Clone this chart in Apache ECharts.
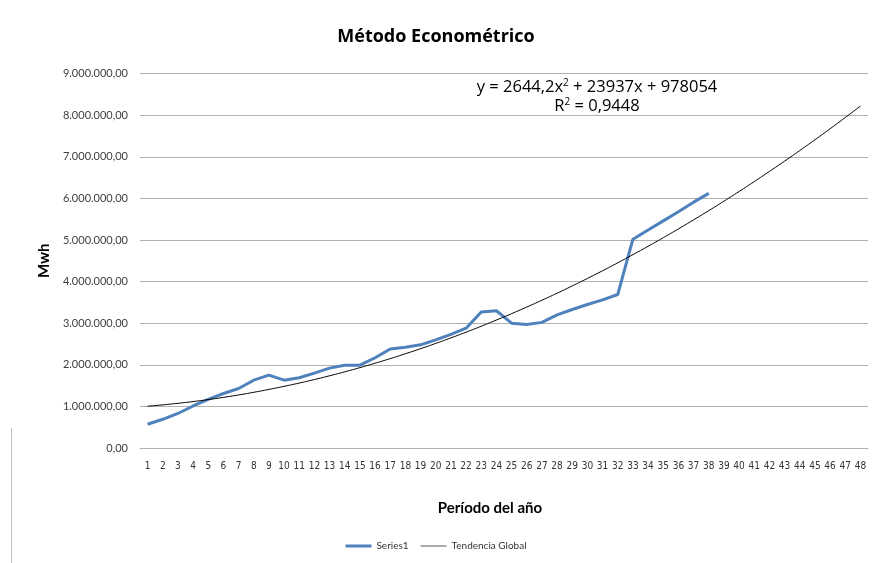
<!DOCTYPE html>
<html>
<head>
<meta charset="utf-8">
<title>Método Econométrico</title>
<script src="https://cdn.jsdelivr.net/npm/echarts@6/dist/echarts.min.js"></script>
<style>
    html, body { margin: 0; padding: 0; background: #fff; }
    #plot { width: 872px; height: 563px; }
</style>
</head>
<body>
<div id="plot"></div>
<script>
// periodos 1..48
const periodos = [];
for (let i = 1; i <= 48; i++) periodos.push(String(i));

// consumo en Mwh (38 periodos)
const series1 = [
    570000, 690000, 830000, 1010000, 1170000, 1310000, 1430000, 1630000, 1750000, 1630000,
    1690000, 1800000, 1920000, 1990000, 1990000, 2170000, 2380000, 2420000, 2480000, 2600000,
    2730000, 2880000, 3270000, 3300000, 3000000, 2970000, 3020000, 3200000, 3330000, 3450000,
    3560000, 3690000, 5020000, 5240000, 5460000, 5680000, 5910000, 6120000
];

// linea de tendencia (polinomica)
const tendencia = [
    1005000, 1037000, 1074000, 1116000, 1164000, 1217000, 1275000, 1339000, 1408000, 1482000,
    1561000, 1646000, 1736000, 1831000, 1932000, 2038000, 2149000, 2266000, 2387000, 2514000,
    2647000, 2784000, 2927000, 3076000, 3229000, 3388000, 3552000, 3721000, 3896000, 4076000,
    4261000, 4452000, 4648000, 4849000, 5055000, 5267000, 5484000, 5706000, 5933000, 6166000,
    6404000, 6648000, 6896000, 7150000, 7410000, 7674000, 7944000, 8219000
];

const ecuacion = ['y = 2644,2x{sup|2} + 23937x + 978054', 'R{sup|2} = 0,9448'];

const fuente = 'Lato, "Liberation Sans", sans-serif';
const fuenteTitulo = '"Open Sans", Lato, sans-serif';

function fmtNum(v) {
    // 9000000 -> 9.000.000,00
    let s = Math.round(v).toString().replace(/\B(?=(\d{3})+(?!\d))/g, '.');
    return s + ',00';
}

function textoEcuacion(txt, y) {
    return {
        type: 'text',
        x: 597,
        y: y,
        style: {
            text: txt,
            fill: '#000',
            font: '16.5px ' + fuenteTitulo,
            align: 'center',
            verticalAlign: 'middle',
            rich: {
                sup: { fontSize: 10, fontFamily: fuenteTitulo, verticalAlign: 'top', padding: [0, 0, 8, 0], fill: '#000' }
            }
        }
    };
}

let chart = echarts.init(document.getElementById('plot'));
let option = {
    backgroundColor: '#fff',
    animation: false,
    textStyle: { fontFamily: fuente },
    title: {
        text: 'Método Econométrico',
        left: 'center',
        top: 23,
        textStyle: { fontSize: 18, fontWeight: 'bold', color: '#000', fontFamily: fuenteTitulo }
    },
    legend: {
        bottom: 7,
        left: 'center',
        itemWidth: 26,
        itemHeight: 3,
        itemGap: 12,
        textStyle: { fontSize: 10, color: '#333', fontFamily: fuente },
        data: [
            { name: 'Series1', icon: 'rect', itemStyle: { color: '#4f81bd' } },
            { name: 'Tendencia Global', icon: 'path://M0,0H26V1H0Z', itemStyle: { color: '#555' } }
        ]
    },
    grid: { left: 140, right: 4, top: 73.6, bottom: 115 },
    xAxis: {
        type: 'category',
        data: periodos,
        boundaryGap: true,
        name: 'Período del año',
        nameLocation: 'middle',
        nameGap: 53,
        nameTextStyle: {
            fontSize: 15, fontWeight: 'bold', color: '#000', fontFamily: fuente,
            padding: [0, 28, 0, 0]
        },
        axisLine: { lineStyle: { color: '#b0b0b0' } },
        axisTick: { show: false },
        axisLabel: {
            interval: 0, margin: 13, fontSize: 10, color: '#333',
            fontFamily: '"Liberation Sans Narrow", "DejaVu Sans Condensed", sans-serif'
        }
    },
    yAxis: {
        type: 'value',
        min: 0,
        max: 9000000,
        interval: 1000000,
        name: 'Mwh',
        nameLocation: 'middle',
        nameGap: 83,
        nameRotate: 90,
        nameTextStyle: { fontSize: 15, fontWeight: 'bold', color: '#000', fontFamily: fuente },
        axisLine: { show: false },
        axisTick: { show: false },
        axisLabel: { margin: 12, fontSize: 11, color: '#404040', formatter: fmtNum },
        splitLine: { lineStyle: { color: '#b0b0b0', width: 1 } }
    },
    series: [
        {
            name: 'Series1',
            type: 'line',
            data: series1,
            symbol: 'none',
            lineStyle: { color: '#4f81bd', width: 3 },
            itemStyle: { color: '#4f81bd' },
            z: 3
        },
        {
            name: 'Tendencia Global',
            type: 'line',
            data: tendencia,
            symbol: 'none',
            smooth: true,
            lineStyle: { color: '#000', width: 1 },
            itemStyle: { color: '#555' },
            z: 4
        }
    ],
    graphic: [
        textoEcuacion(ecuacion[0], 87),
        textoEcuacion(ecuacion[1], 106),
        {
            type: 'line',
            shape: { x1: 11.5, y1: 428, x2: 11.5, y2: 563 },
            style: { stroke: '#bfbfbf', lineWidth: 1 }
        }
    ]
};

chart.setOption(option);
</script>
</body>
</html>
